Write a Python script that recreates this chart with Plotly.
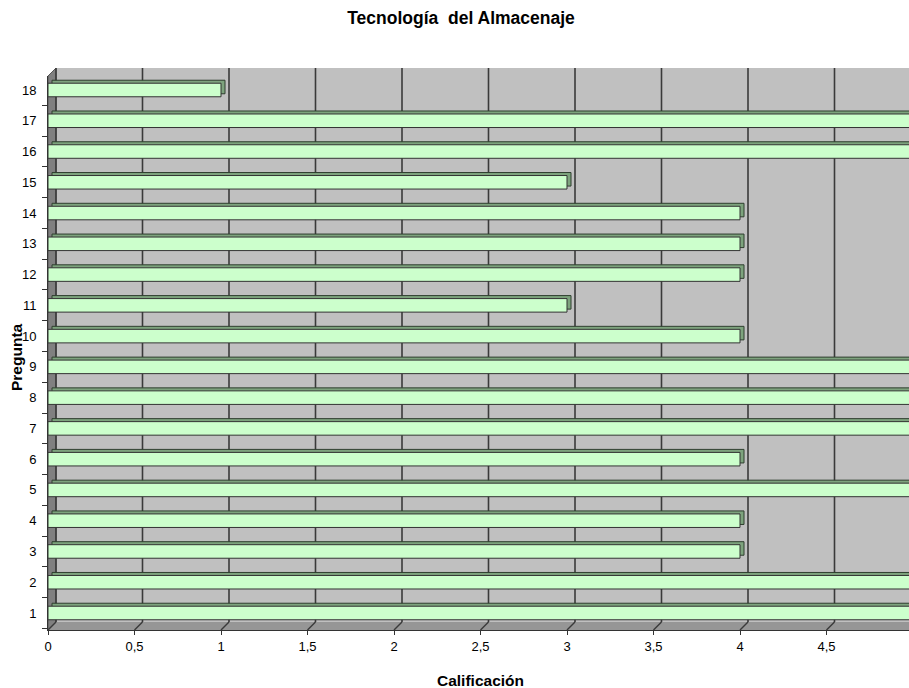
import plotly.graph_objects as go

preguntas = [str(i) for i in range(1, 19)]
calificacion = [5, 5, 4, 4, 5, 4, 5, 5, 5, 4, 3, 4, 4, 4, 3, 5, 5, 1]
x_ticks = [0, 0.5, 1, 1.5, 2, 2.5, 3, 3.5, 4, 4.5, 5]

FIG_W, FIG_H = 909, 688
ML, MR, MT, MB = 48, 0, 76, 58
W = FIG_W - ML - MR
H = FIG_H - MT - MB
PX_PER_X = 173.0
X_MAX = W / PX_PER_X
Y_LO, Y_HI = -0.553, 17.455
PX_PER_CAT = H / (Y_HI - Y_LO)
DEPTH = 8          # wall depth in px
BAR_DX, BAR_DY = 4, 3   # bar depth in px
BAR_W = 0.44

fig = go.Figure()

# shadow (depth) of each bar
fig.add_trace(go.Bar(
    y=preguntas, x=calificacion, orientation="h",
    base=BAR_DX / PX_PER_X, width=BAR_W, offset=-BAR_W / 2 + BAR_DY / PX_PER_CAT,
    marker=dict(color="#7DA37D", line=dict(color="#2f3f2f", width=1)),
    hoverinfo="skip", showlegend=False,
))
# front face of each bar
fig.add_trace(go.Bar(
    y=preguntas, x=calificacion, orientation="h",
    width=BAR_W, offset=-BAR_W / 2,
    marker=dict(color="#CCFFCC", line=dict(color="#333333", width=1)),
    showlegend=False,
))

dx = DEPTH / W
dy = DEPTH / H
shapes = []
# back wall
shapes.append(dict(type="rect", xref="paper", yref="paper", x0=dx, x1=1.05, y0=dy, y1=1 + dy,
                   fillcolor="#C0C0C0", line=dict(width=0), layer="below"))
# side wall
shapes.append(dict(type="path", xref="paper", yref="paper",
                   path=f"M 0 0 L {dx} {dy} L {dx} {1+dy} L 0 1 Z",
                   fillcolor="#808080", line=dict(color="#555555", width=1), layer="below"))
# floor
shapes.append(dict(type="path", xref="paper", yref="paper",
                   path=f"M 0 0 L {dx} {dy} L 1.05 {dy} L 1.05 0 Z",
                   fillcolor="#969696", line=dict(width=0), layer="below"))
for v in x_ticks:
    # back-wall gridline
    shapes.append(dict(type="line", xref="x", yref="paper", xsizemode="pixel", xanchor=v,
                       x0=DEPTH, x1=DEPTH, y0=dy, y1=1 + dy,
                       line=dict(color="#3a3a3a", width=1.6), layer="below"))
    # floor diagonal
    shapes.append(dict(type="line", xref="x", yref="paper", xsizemode="pixel", xanchor=v,
                       x0=0, x1=DEPTH, y0=0, y1=dy,
                       line=dict(color="#3a3a3a", width=1.4), layer="below"))

fig.update_layout(
    width=FIG_W, height=FIG_H,
    margin=dict(l=ML, r=MR, t=MT, b=MB),
    paper_bgcolor="white", plot_bgcolor="rgba(0,0,0,0)",
    barmode="overlay",
    separators=",.",
    font=dict(family="Liberation Sans, Arial, sans-serif", size=13, color="#000000"),
    title=dict(text="<b>Tecnología  del Almacenaje</b>", x=461 / FIG_W, xanchor="center",
               y=1 - 18 / FIG_H, yanchor="middle",
               font=dict(size=17.5, color="#000000")),
    shapes=shapes,
    xaxis=dict(range=[0, X_MAX], tickvals=x_ticks, showgrid=False, zeroline=False,
               showline=True, linecolor="#333333", linewidth=1,
               ticks="outside", ticklen=4, tickcolor="#333333",
               tickfont=dict(size=13)),
    yaxis=dict(type="category", categoryarray=preguntas, range=[Y_LO, Y_HI],
               showgrid=False, zeroline=False,
               showline=True, linecolor="#333333", linewidth=1,
               ticks="outside", ticklen=5, tickcolor="#333333", tickson="boundaries",
               ticklabelstandoff=8,
               tickfont=dict(size=13)),
    annotations=[
        dict(text="<b>Calificación</b>", xref="paper", yref="paper",
             x=(480 - ML) / W, y=(630 - 680) / H, xanchor="center", yanchor="middle",
             showarrow=False, font=dict(size=15.5)),
        dict(text="<b>Pregunta</b>", xref="paper", yref="paper", textangle=-90,
             x=(16 - ML) / W, y=(630 - 357) / H, xanchor="center", yanchor="middle",
             showarrow=False, font=dict(size=15.5)),
    ],
)

fig.write_html("out.html", config={"displayModeBar": False},
               post_script="document.body.style.margin='0';document.body.style.overflow='hidden';")
